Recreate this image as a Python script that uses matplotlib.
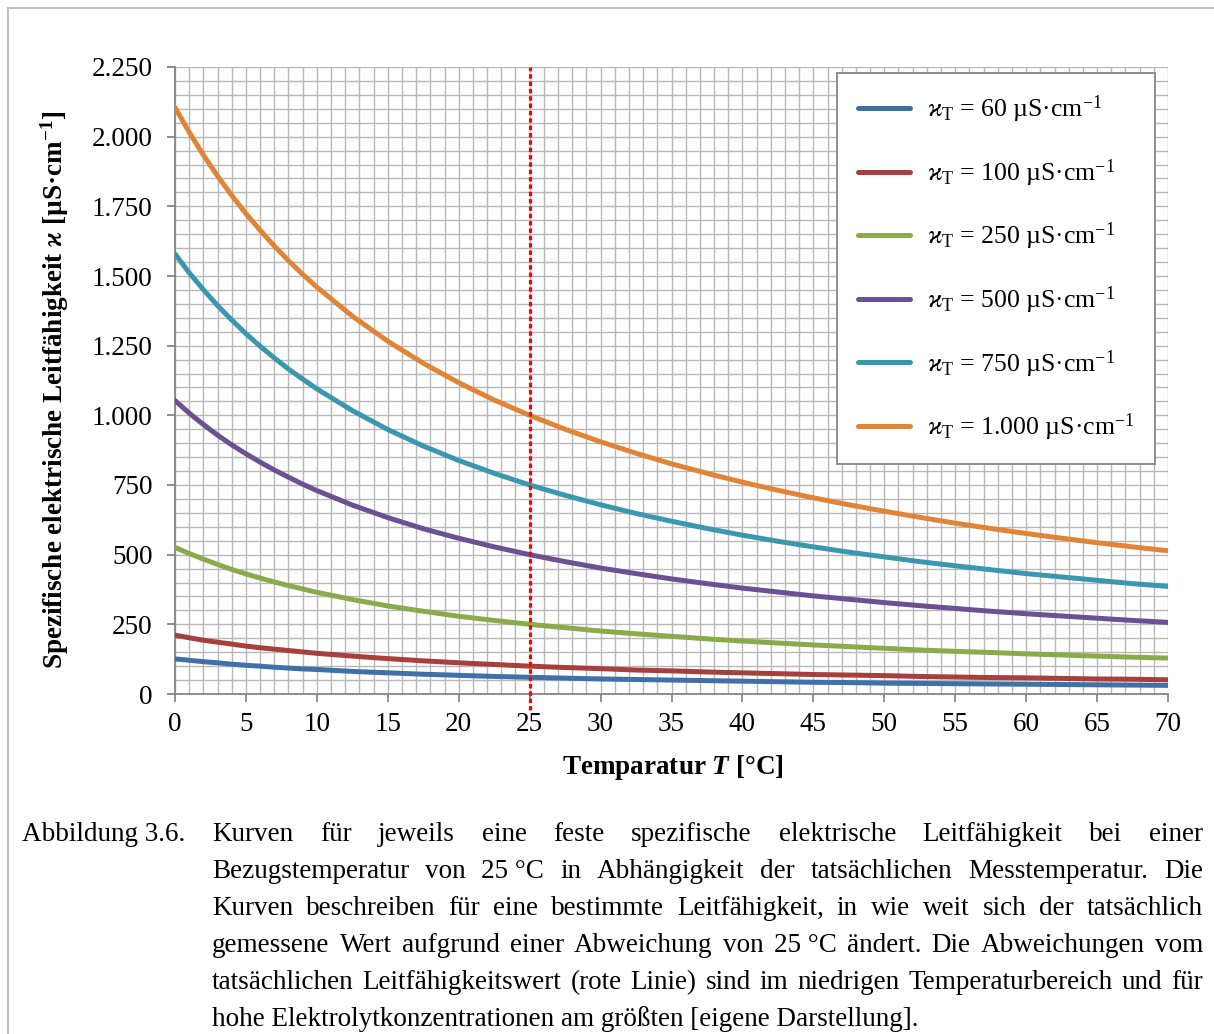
import matplotlib
matplotlib.use("Agg")
import matplotlib.pyplot as plt
from matplotlib.lines import Line2D
from matplotlib.ticker import MultipleLocator, FixedLocator

plt.rcParams['font.family'] = ['Liberation Serif', 'DejaVu Serif']
plt.rcParams['mathtext.fontset'] = 'custom'
plt.rcParams['mathtext.rm'] = 'Liberation Serif'
plt.rcParams['mathtext.it'] = 'Liberation Serif:italic'
plt.rcParams['mathtext.bf'] = 'Liberation Serif:bold'
plt.rcParams['mathtext.bfit'] = 'Liberation Serif:italic:bold'
plt.rcParams['mathtext.fallback'] = 'stix'

# Messtemperatur in °C
temperatur = [0, 1, 2, 3, 4, 5, 6, 7, 8, 9, 10, 12.5, 15, 17.5, 20, 22.5, 25, 27.5, 30, 32.5, 35,
              37.5, 40, 42.5, 45, 47.5, 50, 52.5, 55, 57.5, 60, 62.5, 65, 67.5, 70]

# spezifische Leitfähigkeit bei Messtemperatur (µS/cm)
kappa_60 = [126, 121, 116, 112, 107, 103, 100, 96, 93, 90, 88, 81, 76, 71, 67, 63, 60, 57, 54, 52, 50,
            48, 46, 44, 42, 41, 39, 38, 37, 36, 35, 34, 33, 32, 31]
kappa_100 = [211, 202, 193, 186, 179, 172, 166, 161, 156, 151, 146, 136, 127, 119, 112, 106, 100, 95, 91, 86, 83,
             79, 76, 73, 70, 68, 66, 63, 61, 59, 58, 56, 54, 53, 51]
kappa_250 = [526, 504, 484, 465, 447, 431, 416, 402, 389, 377, 365, 339, 316, 297, 279, 264, 250, 238, 226, 216, 207,
             198, 190, 183, 176, 170, 164, 158, 153, 149, 144, 140, 136, 132, 129]
kappa_500 = [1053, 1008, 967, 929, 894, 862, 832, 804, 778, 753, 730, 678, 633, 593, 559, 528, 500, 475, 452, 432, 413,
             396, 380, 366, 352, 340, 328, 317, 307, 297, 288, 280, 272, 264, 257]
kappa_750 = [1579, 1512, 1451, 1394, 1342, 1293, 1248, 1206, 1166, 1130, 1095, 1017, 949, 890, 838, 792, 750, 713, 679, 648, 620,
             594, 570, 548, 528, 509, 492, 475, 460, 446, 432, 420, 408, 396, 386]
kappa_1000 = [2105, 2016, 1934, 1859, 1789, 1724, 1664, 1608, 1555, 1506, 1460, 1356, 1266, 1187, 1117, 1055, 1000, 950, 905, 864, 826,
              792, 760, 731, 704, 679, 656, 634, 613, 594, 576, 559, 543, 528, 514]

reihen = [kappa_60, kappa_100, kappa_250, kappa_500, kappa_750, kappa_1000]
legende = ["60", "100", "250", "500", "750", "1.000"]
farben = ['#4170A8', '#A6403F', '#8BAA4B', '#6B5192', '#3A97AE', '#E08537']

y_ticks = [0, 250, 500, 750, 1000, 1250, 1500, 1750, 2000, 2250]
y_labels = ["0", "250", "500", "750", "1.000", "1.250", "1.500", "1.750", "2.000", "2.250"]
x_ticks = list(range(0, 71, 5))
bezugstemperatur = 25

fs = 19.5

fig = plt.figure(figsize=(12.14, 10.34), dpi=100)
ax = fig.add_axes([175/1214, 1-694/1034, 993/1214, 627/1034])

for werte, name, farbe in zip(reihen, legende, farben):
    ax.plot(temperatur, werte, color=farbe, lw=3.6, solid_capstyle='round',
            solid_joinstyle='round',
            label=r"$\varkappa_{\mathrm{T}}$ = " + name + r" µS·cm$^{-1}$", zorder=3)

ax.axvline(bezugstemperatur, ymin=-0.025, ymax=1, color='#FF0000', lw=2.3,
           linestyle=(0, (1.4, 0.9)), dash_capstyle='butt', clip_on=False, zorder=4)

ax.set_xlim(0, 70)
ax.set_ylim(0, 2250)
ax.xaxis.set_major_locator(FixedLocator(x_ticks))
ax.xaxis.set_minor_locator(MultipleLocator(1))
ax.yaxis.set_major_locator(FixedLocator(y_ticks))
ax.yaxis.set_minor_locator(MultipleLocator(50))
ax.set_yticklabels(y_labels)
ax.grid(which='both', color='#B8B8B8', lw=1.0)
ax.set_axisbelow(True)
for s in ['top', 'right']:
    ax.spines[s].set_visible(False)
for s in ['left', 'bottom']:
    ax.spines[s].set_color('#868686')
    ax.spines[s].set_linewidth(1.3)
ax.tick_params(which='major', length=6, width=1.3, color='#868686', labelsize=fs)
ax.tick_params(axis='y', which='major', pad=10)
ax.tick_params(axis='x', which='major', pad=7)
ax.tick_params(which='minor', length=0)

fig.text(55/1214, 1-390/1034,
         r"Spezifische elektrische Leitfähigkeit $\mathbfit{\varkappa}$ [µS·cm$^{\mathbf{-1}}$]",
         rotation=90, ha='center', va='center', fontsize=fs, fontweight='bold')
fig.text(673/1214, 1-768/1034, r"Temparatur $\mathbfit{T}$ [°C]",
         ha='center', va='center', fontsize=fs, fontweight='bold')

leg = ax.legend(loc='upper right', bbox_to_anchor=(1155/1214, 1-73/1034),
                bbox_transform=fig.transFigure, borderaxespad=0, fontsize=18.5,
                handlelength=2.05, handletextpad=0.65, borderpad=0.8, labelspacing=1.25,
                fancybox=False, framealpha=1, edgecolor='#868686')
leg.get_frame().set_linewidth(1.3)
for h in leg.get_lines():
    h.set_linewidth(3.6)

# Rahmen oben und links
fig.add_artist(Line2D([8/1214, 8/1214], [0, 1-8/1034], color='#C0C0C0', lw=1.5))
fig.add_artist(Line2D([8/1214, 1], [1-8/1034, 1-8/1034], color='#C0C0C0', lw=1.5))

# Bildunterschrift im Blocksatz
fig.text(22/1214, 1-841/1034, "Abbildung 3.6.", fontsize=fs, va='baseline')
zeilen = [
    "Kurven für jeweils eine feste spezifische elektrische Leitfähigkeit bei einer",
    "Bezugstemperatur von 25\u00a0°C in Abhängigkeit der tatsächlichen Messtemperatur. Die",
    "Kurven beschreiben für eine bestimmte Leitfähigkeit, in wie weit sich der tatsächlich",
    "gemessene Wert aufgrund einer Abweichung von 25\u00a0°C ändert. Die Abweichungen vom",
    "tatsächlichen Leitfähigkeitswert (rote Linie) sind im niedrigen Temperaturbereich und für",
    "hohe Elektrolytkonzentrationen am größten [eigene Darstellung].",
]
renderer = fig.canvas.get_renderer()
x0, x1 = 212, 1203
for i, zeile in enumerate(zeilen):
    y = 1 - (841 + i * 37) / 1034
    if i == len(zeilen) - 1:
        fig.text(x0/1214, y, zeile, fontsize=fs, va='baseline')
        continue
    woerter = zeile.split(' ')
    texte = [fig.text(0, y, w, fontsize=fs, va='baseline') for w in woerter]
    breiten = [t.get_window_extent(renderer).width for t in texte]
    luecke = (x1 - x0 - sum(breiten)) / (len(woerter) - 1)
    x = x0
    for t, b in zip(texte, breiten):
        t.set_x(x / 1214)
        x += b + luecke

fig.savefig("out.png", dpi=100, facecolor='white')
